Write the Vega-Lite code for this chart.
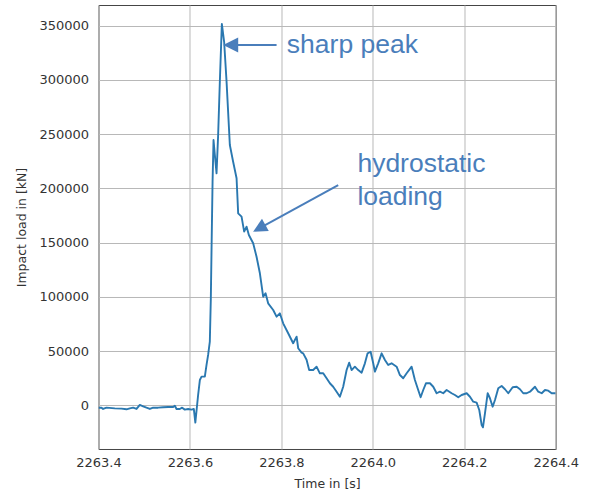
{
  "$schema": "https://vega.github.io/schema/vega-lite/v6.json",
  "autosize": {"type": "none"},
  "padding": {"left": 98.5, "top": 5, "right": 33, "bottom": 45},
  "width": 457.2,
  "height": 444,
  "background": "white",
  "config": {
    "view": {"stroke": "#444444", "strokeWidth": 1},
    "axis": {
      "labelFont": "DejaVu Sans",
      "labelFontSize": 13,
      "labelColor": "#333333",
      "titleFont": "DejaVu Sans",
      "titleFontSize": 12.5,
      "titleFontWeight": "normal",
      "titleColor": "#333333",
      "grid": true,
      "gridColor": "#b8b8b8",
      "gridWidth": 1,
      "domain": false,
      "ticks": false
    }
  },
  "layer": [
    {
      "data": {
        "values": [
          {"t": 2263.4000, "v": -2200}, {"t": 2263.4066, "v": -2200}, {"t": 2263.4101, "v": -3400},
          {"t": 2263.4175, "v": -2200}, {"t": 2263.4357, "v": -2800}, {"t": 2263.4503, "v": -3100},
          {"t": 2263.4613, "v": -3700}, {"t": 2263.4685, "v": -2800}, {"t": 2263.4757, "v": -2200},
          {"t": 2263.4832, "v": -3400}, {"t": 2263.4904, "v": 300}, {"t": 2263.4976, "v": -900},
          {"t": 2263.5050, "v": -2200}, {"t": 2263.5123, "v": -3400}, {"t": 2263.5195, "v": -2200},
          {"t": 2263.5304, "v": -2200}, {"t": 2263.5414, "v": -1800}, {"t": 2263.5523, "v": -1600},
          {"t": 2263.5632, "v": -1600}, {"t": 2263.5670, "v": -400}, {"t": 2263.5707, "v": -3400},
          {"t": 2263.5779, "v": -3400}, {"t": 2263.5829, "v": -2200}, {"t": 2263.5888, "v": -4000},
          {"t": 2263.5961, "v": -3400}, {"t": 2263.6035, "v": -4000}, {"t": 2263.6085, "v": -3400},
          {"t": 2263.6118, "v": -16000}, {"t": 2263.6179, "v": 9500}, {"t": 2263.6217, "v": 23300},
          {"t": 2263.6254, "v": 26400}, {"t": 2263.6326, "v": 26400}, {"t": 2263.6363, "v": 37200},
          {"t": 2263.6398, "v": 46400}, {"t": 2263.6435, "v": 58600}, {"t": 2263.6457, "v": 98600},
          {"t": 2263.6473, "v": 144800}, {"t": 2263.6495, "v": 206200}, {"t": 2263.6516, "v": 244600},
          {"t": 2263.6545, "v": 230800}, {"t": 2263.6582, "v": 213900}, {"t": 2263.6617, "v": 249200},
          {"t": 2263.6654, "v": 298400}, {"t": 2263.6698, "v": 351600}, {"t": 2263.6748, "v": 335200},
          {"t": 2263.6801, "v": 298400}, {"t": 2263.6873, "v": 240000}, {"t": 2263.6945, "v": 224600},
          {"t": 2263.7020, "v": 209300}, {"t": 2263.7055, "v": 177000}, {"t": 2263.7129, "v": 173900},
          {"t": 2263.7186, "v": 160100}, {"t": 2263.7239, "v": 164700}, {"t": 2263.7289, "v": 157000},
          {"t": 2263.7383, "v": 149400}, {"t": 2263.7457, "v": 137000}, {"t": 2263.7530, "v": 121700},
          {"t": 2263.7602, "v": 100100}, {"t": 2263.7654, "v": 103300}, {"t": 2263.7711, "v": 94000},
          {"t": 2263.7821, "v": 87900}, {"t": 2263.7895, "v": 81700}, {"t": 2263.7967, "v": 84800},
          {"t": 2263.8039, "v": 75600}, {"t": 2263.8149, "v": 66400}, {"t": 2263.8258, "v": 57200},
          {"t": 2263.8333, "v": 63300}, {"t": 2263.8368, "v": 52600}, {"t": 2263.8442, "v": 48500},
          {"t": 2263.8477, "v": 47900}, {"t": 2263.8551, "v": 42000}, {"t": 2263.8608, "v": 32500},
          {"t": 2263.8696, "v": 32500}, {"t": 2263.8770, "v": 35600}, {"t": 2263.8842, "v": 29500},
          {"t": 2263.8915, "v": 29500}, {"t": 2263.8989, "v": 24900}, {"t": 2263.9061, "v": 20300},
          {"t": 2263.9133, "v": 17100}, {"t": 2263.9208, "v": 12500}, {"t": 2263.9280, "v": 7900},
          {"t": 2263.9352, "v": 17100}, {"t": 2263.9427, "v": 32500}, {"t": 2263.9484, "v": 39300},
          {"t": 2263.9536, "v": 32500}, {"t": 2263.9608, "v": 35600}, {"t": 2263.9681, "v": 32500},
          {"t": 2263.9755, "v": 30100}, {"t": 2263.9827, "v": 38700}, {"t": 2263.9886, "v": 47900},
          {"t": 2263.9952, "v": 49400}, {"t": 2264.0009, "v": 38700}, {"t": 2264.0046, "v": 31000},
          {"t": 2264.0118, "v": 38700}, {"t": 2264.0193, "v": 47900}, {"t": 2264.0265, "v": 41800},
          {"t": 2264.0337, "v": 37200}, {"t": 2264.0411, "v": 38700}, {"t": 2264.0521, "v": 35600},
          {"t": 2264.0593, "v": 27900}, {"t": 2264.0665, "v": 24900}, {"t": 2264.0740, "v": 29500},
          {"t": 2264.0849, "v": 35600}, {"t": 2264.0921, "v": 23300}, {"t": 2264.0993, "v": 14100},
          {"t": 2264.1046, "v": 7400}, {"t": 2264.1103, "v": 14100}, {"t": 2264.1162, "v": 20300},
          {"t": 2264.1250, "v": 20300}, {"t": 2264.1322, "v": 17100}, {"t": 2264.1396, "v": 11100},
          {"t": 2264.1468, "v": 12500}, {"t": 2264.1540, "v": 11100}, {"t": 2264.1615, "v": 14100},
          {"t": 2264.1724, "v": 11100}, {"t": 2264.1796, "v": 9500}, {"t": 2264.1869, "v": 7400},
          {"t": 2264.1943, "v": 9500}, {"t": 2264.2053, "v": 11100}, {"t": 2264.2125, "v": 7900},
          {"t": 2264.2197, "v": 3300}, {"t": 2264.2271, "v": 2400}, {"t": 2264.2328, "v": -4300},
          {"t": 2264.2381, "v": -18200}, {"t": 2264.2409, "v": -20300}, {"t": 2264.2453, "v": -7400},
          {"t": 2264.2512, "v": 11100}, {"t": 2264.2562, "v": 6500}, {"t": 2264.2621, "v": -1300},
          {"t": 2264.2672, "v": 4900}, {"t": 2264.2744, "v": 15700}, {"t": 2264.2818, "v": 17800},
          {"t": 2264.2891, "v": 14800}, {"t": 2264.2963, "v": 11100}, {"t": 2264.3059, "v": 16600},
          {"t": 2264.3147, "v": 17100}, {"t": 2264.3219, "v": 14800}, {"t": 2264.3291, "v": 11100},
          {"t": 2264.3365, "v": 11100}, {"t": 2264.3438, "v": 12500}, {"t": 2264.3547, "v": 17100},
          {"t": 2264.3619, "v": 12500}, {"t": 2264.3694, "v": 11100}, {"t": 2264.3766, "v": 14100},
          {"t": 2264.3838, "v": 13500}, {"t": 2264.3912, "v": 11100}, {"t": 2264.4000, "v": 11100}
        ]
      },
      "mark": {"type": "line", "color": "#2a78b0", "strokeWidth": 1.9, "strokeJoin": "round", "clip": true},
      "encoding": {
        "x": {
          "field": "t", "type": "quantitative",
          "scale": {"domain": [2263.4, 2264.4], "nice": false, "zero": false},
          "axis": {"title": "Time in [s]", "values": [2263.4, 2263.6, 2263.8, 2264.0, 2264.2, 2264.4], "format": ".1f", "labelPadding": 8, "titlePadding": 8, "labelFlush": false}
        },
        "y": {
          "field": "v", "type": "quantitative",
          "scale": {"domain": [-40300, 369100], "nice": false, "zero": false},
          "axis": {"title": "Impact load in [kN]", "values": [0, 50000, 100000, 150000, 200000, 250000, 300000, 350000], "format": "d", "labelPadding": 10, "titlePadding": 10}
        }
      }
    },
    {
      "data": {
        "values": [
          {"t": 2263.700, "v": 332200, "t2": 2263.7895, "v2": 332200},
          {"t": 2263.9243, "v": 203100, "t2": 2263.7595, "v2": 164900}
        ]
      },
      "mark": {"type": "rule", "color": "#4a7ebb", "strokeWidth": 2},
      "encoding": {
        "x": {"field": "t", "type": "quantitative"},
        "y": {"field": "v", "type": "quantitative"},
        "x2": {"field": "t2"},
        "y2": {"field": "v2"}
      }
    },
    {
      "data": {
        "values": [
          {"t": 2263.6891, "v": 332200, "rot": 0, "sz": 225},
          {"t": 2263.7516, "v": 163200, "rot": -29, "sz": 196}
        ]
      },
      "mark": {"type": "point", "shape": "M-1,0L1,-1L1,1Z", "filled": true, "color": "#4a7ebb", "opacity": 1},
      "encoding": {
        "x": {"field": "t", "type": "quantitative"},
        "y": {"field": "v", "type": "quantitative"},
        "angle": {"field": "rot", "type": "quantitative", "scale": null},
        "size": {"field": "sz", "type": "quantitative", "scale": null}
      }
    },
    {
      "data": {
        "values": [
          {"t": 2263.812, "v": 324500, "label": "sharp peak"},
          {"t": 2263.9663, "v": 215400, "label": "hydrostatic"},
          {"t": 2263.9663, "v": 184600, "label": "loading"}
        ]
      },
      "mark": {"type": "text", "align": "left", "baseline": "alphabetic", "font": "Liberation Sans", "fontSize": 26.5, "color": "#4a7ebb"},
      "encoding": {
        "x": {"field": "t", "type": "quantitative"},
        "y": {"field": "v", "type": "quantitative"},
        "text": {"field": "label"}
      }
    }
  ]
}
